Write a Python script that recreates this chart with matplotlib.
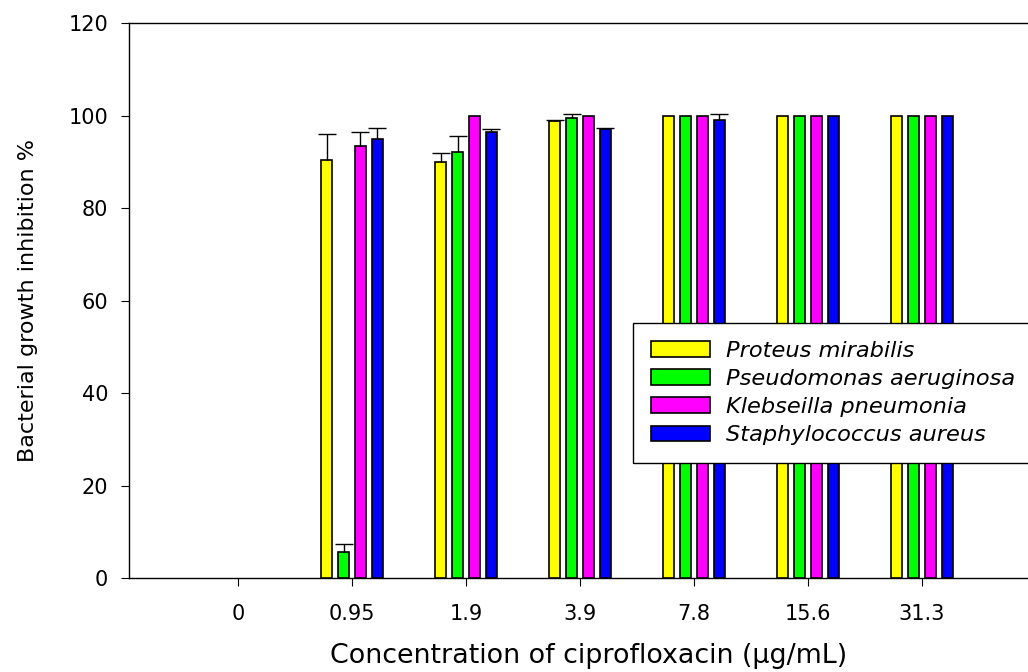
import numpy as np
import matplotlib
matplotlib.use('Agg')
import matplotlib.pyplot as plt

# concentrations of ciprofloxacin (ug/mL)
concentrations = ['0', '0.95', '1.9', '3.9', '7.8', '15.6', '31.3']

species = ['Proteus mirabilis', 'Pseudomonas aeruginosa',
           'Klebseilla pneumonia', 'Staphylococcus aureus']
colors = ['#FFFF00', '#00FF00', '#FF00FF', '#0000FF']

# growth inhibition %, one list per species
proteus = [0, 90.4, 89.9, 98.9, 100, 100, 100]
pseudomonas = [0, 5.7, 92.2, 99.5, 100, 100, 100]
klebsiella = [0, 93.3, 100, 100, 100, 100, 100]
staph = [0, 94.9, 96.5, 97.1, 99.0, 100, 100]

# upper error (SD)
proteus_err = [0, 5.7, 1.9, 0.2, 0, 0, 0]
pseudomonas_err = [0, 1.6, 3.4, 0.8, 0, 0, 0]
klebsiella_err = [0, 3.1, 0, 0, 0, 0, 0]
staph_err = [0, 2.5, 0.6, 0.1, 1.4, 0, 0]

values = [proteus, pseudomonas, klebsiella, staph]
errors = [proteus_err, pseudomonas_err, klebsiella_err, staph_err]

plt.rcParams['font.family'] = 'DejaVu Sans'

W, H = 1028, 672
fig = plt.figure(figsize=(W / 100, H / 100), dpi=100)
left_px, right_px, top_px, bottom_px = 129, 1049, 23, 578
ax_w = right_px - left_px
ax = fig.add_axes([left_px / W, 1 - bottom_px / H,
                   ax_w / W, (bottom_px - top_px) / H])

x = np.arange(len(concentrations))
step = 0.149
width = 0.097
for i, (vals, errs, col, name) in enumerate(zip(values, errors, colors, species)):
    pos = x + (i - 1.5) * step
    vals = np.array(vals)
    errs = np.array(errs)
    shown = vals > 0
    ax.bar(pos[shown], vals[shown], width=width, color=col, edgecolor='black',
           linewidth=1.2, label=name, zorder=3)
    m = errs > 0
    eb = ax.errorbar(pos[m], vals[m], yerr=[np.zeros(m.sum()), errs[m]],
                     fmt='none', ecolor='black', elinewidth=1.0, capsize=6.5,
                     capthick=1.0, zorder=4)
    eb[1][0].set_visible(False)  # only upper caps

ax.set_xlim(-(238 - left_px) / 114, (right_px - 238) / 114)
ax.set_ylim(0, 120)
ax.set_xticks(x)
ax.set_xticklabels(concentrations)
ax.set_yticks(np.arange(0, 121, 20))
ax.tick_params(direction='out', length=6, width=0.8, labelsize=15)
ax.tick_params(axis='x', pad=13)
ax.tick_params(axis='y', pad=9)
for s in ax.spines.values():
    s.set_linewidth(1.0)

ax.set_xlabel('Concentration of ciprofloxacin (\u03bcg/mL)', fontsize=19.4)
ax.xaxis.set_label_coords(0.5, (578 - 643) / 555)
ax.set_ylabel('Bacterial growth inhibition %', fontsize=16)
ax.yaxis.set_label_coords((38 - left_px) / ax_w, 0.5)

leg = ax.legend(loc='upper left', bbox_to_anchor=(633 / W, 1 - 323 / H),
                bbox_transform=fig.transFigure, borderaxespad=0,
                fancybox=False, framealpha=1, edgecolor='black',
                prop={'style': 'italic', 'size': 16.2},
                handlelength=2.6, handleheight=0.7, handletextpad=0.75,
                labelspacing=0.36, borderpad=0.8)
leg.get_frame().set_linewidth(1.0)
leg.set_zorder(5)

fig.savefig('out.png', dpi=100)
